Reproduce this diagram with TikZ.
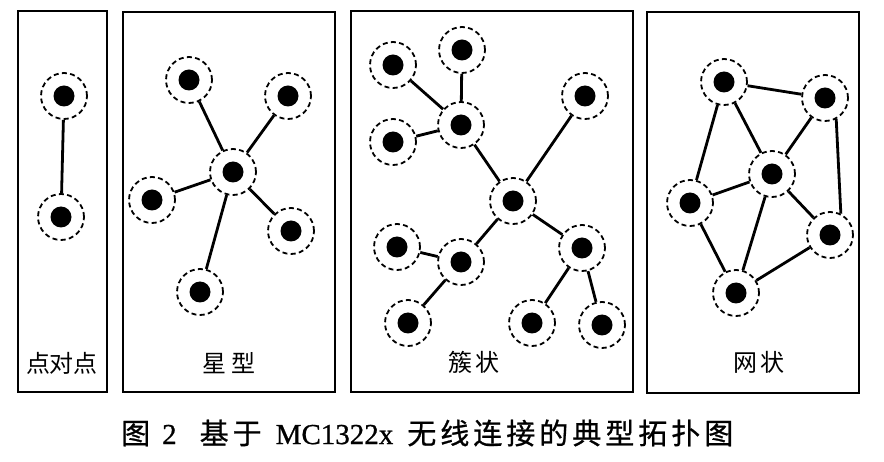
\documentclass[tikz,border=0pt]{standalone}
\usepackage{fontspec}
\setmainfont{Liberation Serif}
\newfontfamily\cjk{Noto Sans CJK SC}
\newfontfamily\cjkb[FakeBold=0.8]{Noto Sans CJK SC}
\newfontfamily\capserif[FakeBold=0.8]{Liberation Serif}
\begin{document}
\begin{tikzpicture}[x=1pt,y=-1pt,
  sensor/.style={circle, draw, dash pattern=on 5pt off 3.3pt, line width=1.8pt,
    minimum size=46pt, inner sep=0pt,
    path picture={\fill[black] (path picture bounding box.center) circle (10.5pt);}},
  link/.style={line width=2.8pt},
  panel/.style={line width=1.8pt},
  plabel/.style={font=\cjk\fontsize{24}{26}\selectfont, inner sep=0pt}]
\useasboundingbox[fill=white] (0,0) rectangle (884,462);
% panels
\draw[panel] (18,11) rectangle (107,392);
\draw[panel] (123,12) rectangle (335,392);
\draw[panel] (351,11) rectangle (633,392);
\draw[panel] (647,12) rectangle (859,393);
% point to point
\node[sensor] (p1) at (64,96) {};
\node[sensor] (p2) at (61,217) {};
\draw[link] (p1) -- (p2);
\node[plabel] (l1) at (62,363) {点对点};
% star
\node[sensor] (sc) at (233,172) {};
\node[sensor] (s1) at (189,80) {};
\node[sensor] (s2) at (288,96) {};
\node[sensor] (s3) at (152,200) {};
\node[sensor] (s4) at (291,231) {};
\node[sensor] (s5) at (200,292) {};
\foreach \n in {s1,s2,s3,s4,s5} \draw[link] (sc) -- (\n);
\node[plabel] (l2) at (229,363) {星\hspace{5pt}型};
% cluster
\node[sensor] (cc) at (513,201) {};
\node[sensor] (ch1) at (461,125) {};
\node[sensor] (ch2) at (461,262) {};
\node[sensor] (ch3) at (582,248) {};
\node[sensor] (ctr) at (585,96) {};
\node[sensor] (ca) at (393,65) {};
\node[sensor] (cb) at (462,50) {};
\node[sensor] (cd) at (393,142) {};
\node[sensor] (ce) at (397,247) {};
\node[sensor] (cf) at (408,323) {};
\node[sensor] (cg) at (532,323) {};
\node[sensor] (ch) at (602,325) {};
\draw[link] (cc) -- (ch1);
\draw[link] (cc) -- (ch2);
\draw[link] (cc) -- (ch3);
\draw[link] (cc) -- (ctr);
\draw[link] (ch1) -- (ca);
\draw[link] (ch1) -- (cb);
\draw[link] (ch1) -- (cd);
\draw[link] (ch2) -- (ce);
\draw[link] (ch2) -- (cf);
\draw[link] (ch3) -- (cg);
\draw[link] (ch3) -- (ch);
\node[plabel] (l3) at (474,362) {簇\hspace{4pt}状};
% mesh
\node[sensor] (ma) at (724,82) {};
\node[sensor] (mb) at (825,98) {};
\node[sensor] (mc) at (772,174) {};
\node[sensor] (md) at (690,203) {};
\node[sensor] (me) at (830,235) {};
\node[sensor] (mf) at (736,293) {};
\draw[link] (ma) -- (mb);
\draw[link] (ma) -- (md);
\draw[link] (ma) -- (mc);
\draw[link] (mb) -- (mc);
\draw[link] (mb.-62) -- (me.63);
\draw[link] (mc) -- (md);
\draw[link] (mc) -- (me);
\draw[link] (mc) -- (mf);
\draw[link] (md) -- (mf);
\draw[link] (me) -- (mf);
\node[plabel] (l4) at (759,362) {网\hspace{4pt}状};
% caption
\node[inner sep=0pt, anchor=west, font=\capserif\fontsize{29}{32}\selectfont] (cap) at (121,433)
  {{\cjkb 图}\hspace{12pt}2\hspace{23pt}{\cjkb 基\hspace{4pt}于}\hspace{14pt}MC1322x\hspace{14pt}{\cjkb 无\hspace{4pt}线\hspace{4pt}连\hspace{4pt}接\hspace{4pt}的\hspace{4pt}典\hspace{4pt}型\hspace{4pt}拓\hspace{4pt}扑\hspace{4pt}图}};
\end{tikzpicture}
\end{document}
